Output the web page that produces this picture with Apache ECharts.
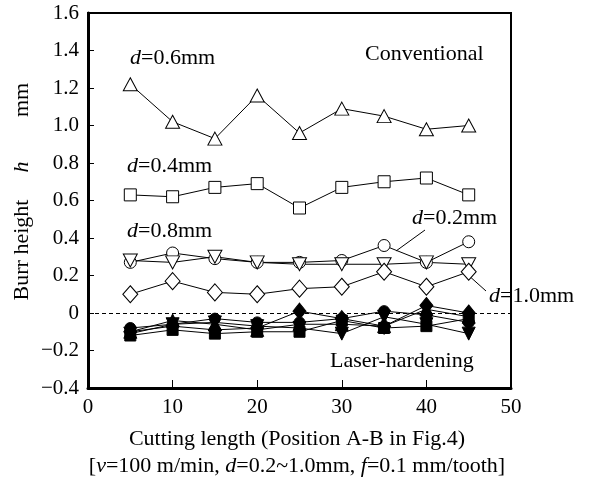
<!DOCTYPE html>
<html><head><meta charset="utf-8">
<script src="https://cdn.jsdelivr.net/npm/echarts@6/dist/echarts.min.js"></script>
<style>html,body{margin:0;padding:0;background:#fff}#c{width:593px;height:486px}</style>
</head><body><div id="c"></div>
<script>
var xs = [5, 10, 15, 20, 25, 30, 35, 40, 45];
var yTicks = ['1.6','1.4','1.2','1.0','0.8','0.6','0.4','0.2','0','\u22120.2','\u22120.4'];
// Conventional
var conv06 = [1.22, 1.02, 0.93, 1.16, 0.96, 1.09, 1.05, 0.98, 1.00];
var conv04 = [0.63, 0.62, 0.67, 0.69, 0.56, 0.67, 0.70, 0.72, 0.63];
var conv02 = [0.27, 0.32, 0.29, 0.27, 0.27, 0.28, 0.36, 0.27, 0.38];
var conv08 = [0.28, 0.27, 0.30, 0.27, 0.26, 0.26, 0.26, 0.27, 0.26];
var conv10 = [0.10, 0.17, 0.11, 0.10, 0.13, 0.14, 0.22, 0.14, 0.22];
// Laser-hardening
var lh02 = [-0.08, -0.06, -0.03, -0.05, -0.05, -0.03, 0.01, -0.01, -0.05];
var lh04 = [-0.12, -0.09, -0.11, -0.10, -0.10, -0.04, -0.08, -0.07, -0.03];
var lh06 = [-0.10, -0.04, -0.06, -0.09, -0.06, -0.06, -0.07, 0.02, -0.02];
var lh08 = [-0.11, -0.06, -0.05, -0.07, -0.08, -0.11, -0.02, -0.06, -0.11];
var lh10 = [-0.10, -0.07, -0.09, -0.08, 0.01, -0.03, -0.07, 0.04, 0.00];

var FONT = '"Liberation Serif", "DejaVu Serif", serif';
var downTri = 'path://M0,0 L10,0 L5,9 Z';
function pairs(v){ return xs.map(function(x,i){ return [x, v[i]]; }); }
function ser(v, sym, size, filled, extra){
  var s = {
    type:'line', data:pairs(v), symbol:sym, symbolSize:size, showAllSymbol:true,
    lineStyle:{color:'#000', width:1}, z: filled?3:4,
    itemStyle:{color: filled?'#000':'#fff', borderColor:'#000', borderWidth:1},
    emphasis:{disabled:true}, animation:false
  };
  if (extra) for (var k in extra) s[k]=extra[k];
  return s;
}
var chart = echarts.init(document.getElementById('c'));
var SZ = 22;
var RICH = {i:{fontStyle:'italic', fontSize:SZ, fontFamily:FONT}, n:{fontSize:SZ, fontFamily:FONT}};
function label(txt, x, y){
  return {type:'text', x:x, y:y, style:{text:txt, font: SZ+'px '+FONT, fill:'#000', verticalAlign:'middle', rich:RICH}};
}
chart.setOption({
  animation:false,
  grid:{left:88, right:82, top:13, bottom:98, show:true, borderColor:'#000', borderWidth:2},
  xAxis:{type:'value', min:0, max:50, interval:10,
    axisLine:{onZero:false, lineStyle:{color:'#000', width:3}},
    axisTick:{inside:true, length:8, lineStyle:{color:'#000', width:1}},
    axisLabel:{color:'#000', fontFamily:FONT, fontSize:21, margin:9},
    splitLine:{show:false}},
  yAxis:{type:'value', min:-0.4, max:1.6, interval:0.2,
    axisLine:{show:true, onZero:false, lineStyle:{color:'#000', width:3}},
    axisTick:{show:true, inside:true, length:6, lineStyle:{color:'#000', width:1}},
    axisLabel:{color:'#000', fontFamily:FONT, fontSize:21, margin:9,
      formatter:function(v){ var i = Math.round((1.6 - v)/0.2); return yTicks[i]; }},
    splitLine:{show:false}},
  series:[
    ser(conv06, 'triangle', [14,13], false, {markLine:{silent:true, symbol:'none', label:{show:false},
      lineStyle:{color:'#000', type:[4,3], width:1}, data:[{yAxis:0}]}}),
    ser(conv04, 'rect', 12, false),
    ser(conv02, 'circle', 12, false),
    ser(conv08, downTri, [14,13], false),
    ser(conv10, 'diamond', [15,17], false),
    ser(lh02, 'circle', 11, true),
    ser(lh04, 'rect', 11, true),
    ser(lh06, 'triangle', [13,13], true),
    ser(lh08, downTri, [13,13], true),
    ser(lh10, 'diamond', [13,16], true)
  ],
  graphic:[
    label('{i|d}{n|=0.6mm}', 130, 58),
    {type:'text', x:365, y:54, style:{text:'Conventional', font:SZ+'px '+FONT, fill:'#000', verticalAlign:'middle'}},
    label('{i|d}{n|=0.4mm}', 127, 166),
    label('{i|d}{n|=0.8mm}', 127, 231),
    label('{i|d}{n|=0.2mm}', 412, 218),
    label('{i|d}{n|=1.0mm}', 489, 296),
    {type:'text', x:330, y:361, style:{text:'Laser-hardening', font:SZ+'px '+FONT, fill:'#000', verticalAlign:'middle'}},
    {type:'line', shape:{x1:425, y1:230, x2:396, y2:251}, style:{stroke:'#000', lineWidth:1}},
    {type:'line', shape:{x1:467, y1:274, x2:486, y2:291}, style:{stroke:'#000', lineWidth:1}},
    {type:'text', x:297, y:439, style:{text:'Cutting length (Position A-B in Fig.4)', font:SZ+'px '+FONT, fill:'#000', align:'center', verticalAlign:'middle'}},
    {type:'text', x:297, y:466, style:{text:'[{i|v}{n|=100 m/min, }{i|d}{n|=0.2~1.0mm, }{i|f}{n|=0.1 mm/tooth]}', font:SZ+'px '+FONT, fill:'#000', align:'center', verticalAlign:'middle', rich:RICH}},
    {type:'text', x:22, y:250, rotation:Math.PI/2, style:{text:'Burr height', font:SZ+'px '+FONT, fill:'#000', align:'center', verticalAlign:'middle'}},
    {type:'text', x:22, y:167, rotation:Math.PI/2, style:{text:'h', font:'italic '+SZ+'px '+FONT, fill:'#000', align:'center', verticalAlign:'middle'}},
    {type:'text', x:22, y:100, rotation:Math.PI/2, style:{text:'mm', font:SZ+'px '+FONT, fill:'#000', align:'center', verticalAlign:'middle'}}
  ]
});
</script></body></html>
